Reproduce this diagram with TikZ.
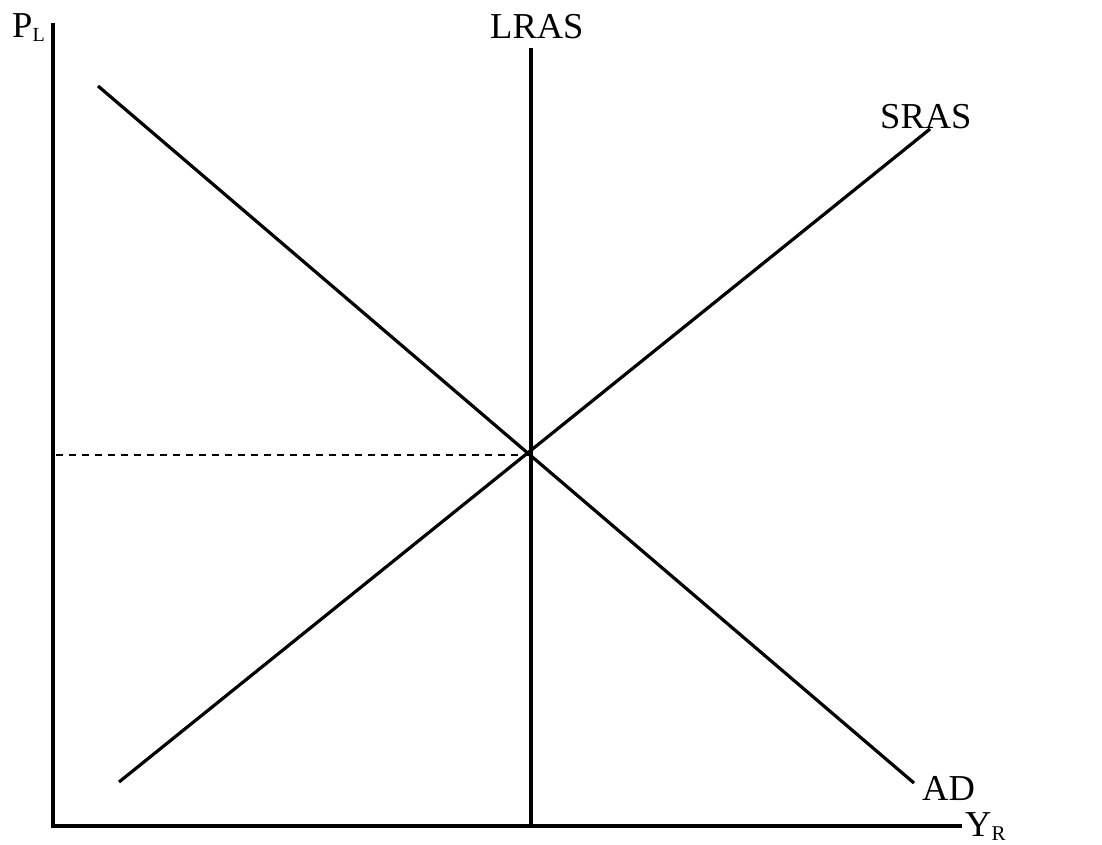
\documentclass[tikz,border=0pt]{standalone}
\usepackage{fontspec}
\setmainfont{Liberation Serif}
\usetikzlibrary{positioning}
\newcommand{\lblfont}{\fontsize{36.5}{40}\selectfont}
\newcommand{\lowsub}[2][20]{\lower4pt\hbox{\fontsize{#1}{#1}\selectfont #2}}

\begin{document}
\begin{tikzpicture}[x=1pt,y=-1pt,
      axis/.style={line width=4pt,draw=black},
      curve/.style={line width=3.2pt,draw=black},
      guide/.style={line width=1.8pt,dash pattern=on 7pt off 6pt,draw=black},
      lab/.style={font=\lblfont,inner sep=0pt,anchor=base west}]
    \useasboundingbox (0,0) rectangle (1102,844);
    % axes
    \coordinate (origin) at (53,826);
    \coordinate (ytop) at (53,23);
    \coordinate (xend) at (962,826);
    \draw[axis] (ytop) -- (origin) -- (xend);
    \node[lab] (pl) at (12,37) {P\lowsub{L}};
    \node[lab] (yr) at (965,836) {Y\lowsub[21]{R}};
    % curves
    \coordinate (eq) at (531,455);
    \coordinate (lrastop) at (531,48);
    \coordinate (lrasbot) at (531,826);
    \coordinate (adtop) at (98,86);
    \coordinate (adbot) at (914,783);
    \coordinate (srasbot) at (119,782);
    \coordinate (srastop) at (930,129);
    \draw[curve] (lrastop) -- (lrasbot);
    \draw[curve] (adtop) -- (adbot);
    \draw[curve] (srasbot) -- (srastop);
    \draw[guide] (eq) -- (eq -| origin);
    \node[lab] (lras) at (490,38) {LRAS};
    \node[lab] (sras) at (880,128) {SRAS};
    \node[lab] (ad) at (922,800) {AD};
\end{tikzpicture}
\end{document}
